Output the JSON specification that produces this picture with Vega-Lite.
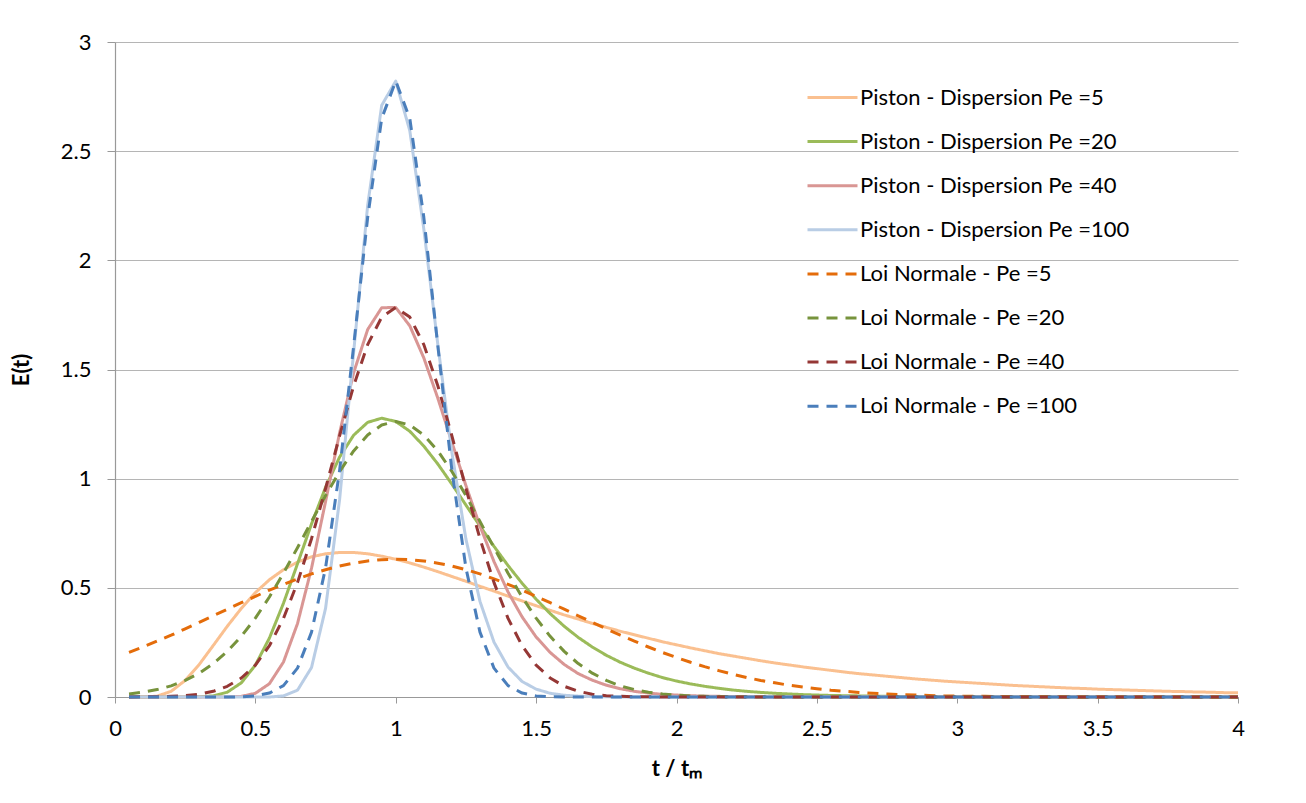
{
  "$schema": "https://vega.github.io/schema/vega-lite/v6.json",
  "width": 1123,
  "height": 655,
  "autosize": {"type": "none"},
  "padding": {"left": 115, "top": 42, "right": 68, "bottom": 106},
  "background": "white",
  "config": {
    "view": {"stroke": null},
    "font": "Lato",
    "axis": {
      "labelFontSize": 22,
      "labelColor": "#000000",
      "titleFontSize": 22,
      "titleFontWeight": "bold",
      "titleColor": "#000000",
      "domainColor": "#999999",
      "tickColor": "#999999",
      "gridColor": "#b5b5b5",
      "domainWidth": 1.2,
      "gridWidth": 1.2
    }
  },
  "data": {
    "values": [
      {"t":0.05,"P5":0,"P20":0,"P40":0,"P100":0,"N5":0.204,"N20":0.014,"N40":0,"N100":0},
      {"t":0.10,"P5":0,"P20":0,"P40":0,"P100":0,"N5":0.229,"N20":0.022,"N40":0.001,"N100":0},
      {"t":0.15,"P5":0.004,"P20":0,"P40":0,"P100":0,"N5":0.256,"N20":0.034,"N40":0.001,"N100":0},
      {"t":0.20,"P5":0.026,"P20":0,"P40":0,"P100":0,"N5":0.283,"N20":0.051,"N40":0.003,"N100":0},
      {"t":0.25,"P5":0.076,"P20":0,"P40":0,"P100":0,"N5":0.312,"N20":0.076,"N40":0.006,"N100":0},
      {"t":0.30,"P5":0.149,"P20":0.001,"P40":0,"P100":0,"N5":0.342,"N20":0.109,"N40":0.013,"N100":0},
      {"t":0.35,"P5":0.236,"P20":0.005,"P40":0,"P100":0,"N5":0.372,"N20":0.153,"N40":0.026,"N100":0},
      {"t":0.40,"P5":0.324,"P20":0.022,"P40":0,"P100":0,"N5":0.402,"N20":0.209,"N40":0.049,"N100":0},
      {"t":0.45,"P5":0.406,"P20":0.065,"P40":0.003,"P100":0,"N5":0.432,"N20":0.278,"N40":0.087,"N100":0.001},
      {"t":0.50,"P5":0.478,"P20":0.146,"P40":0.017,"P100":0,"N5":0.461,"N20":0.361,"N40":0.146,"N100":0.005},
      {"t":0.55,"P5":0.537,"P20":0.270,"P40":0.061,"P100":0,"N5":0.490,"N20":0.458,"N40":0.235,"N100":0.018},
      {"t":0.60,"P5":0.583,"P20":0.429,"P40":0.160,"P100":0.005,"N5":0.516,"N20":0.567,"N40":0.360,"N100":0.052},
      {"t":0.65,"P5":0.618,"P20":0.610,"P40":0.336,"P100":0.031,"N5":0.541,"N20":0.684,"N40":0.524,"N100":0.132},
      {"t":0.70,"P5":0.642,"P20":0.793,"P40":0.590,"P100":0.135,"N5":0.564,"N20":0.804,"N40":0.725,"N100":0.297},
      {"t":0.75,"P5":0.656,"P20":0.960,"P40":0.895,"P100":0.406,"N5":0.583,"N20":0.923,"N40":0.955,"N100":0.591},
      {"t":0.80,"P5":0.662,"P20":1.099,"P40":1.210,"P100":0.904,"N5":0.600,"N20":1.033,"N40":1.196,"N100":1.038},
      {"t":0.85,"P5":0.662,"P20":1.199,"P40":1.485,"P100":1.579,"N5":0.613,"N20":1.127,"N40":1.425,"N100":1.607},
      {"t":0.90,"P5":0.656,"P20":1.258,"P40":1.683,"P100":2.252,"N5":0.623,"N20":1.200,"N40":1.614,"N100":2.197},
      {"t":0.95,"P5":0.645,"P20":1.277,"P40":1.783,"P100":2.710,"N5":0.629,"N20":1.246,"N40":1.740,"N100":2.650},
      {"t":1.00,"P5":0.631,"P20":1.262,"P40":1.784,"P100":2.821,"N5":0.631,"N20":1.262,"N40":1.784,"N100":2.821},
      {"t":1.05,"P5":0.614,"P20":1.217,"P40":1.700,"P100":2.594,"N5":0.629,"N20":1.246,"N40":1.740,"N100":2.650},
      {"t":1.10,"P5":0.595,"P20":1.149,"P40":1.553,"P100":2.143,"N5":0.623,"N20":1.200,"N40":1.614,"N100":2.197},
      {"t":1.15,"P5":0.574,"P20":1.067,"P40":1.368,"P100":1.613,"N5":0.613,"N20":1.127,"N40":1.425,"N100":1.607},
      {"t":1.20,"P5":0.552,"P20":0.975,"P40":1.167,"P100":1.119,"N5":0.600,"N20":1.033,"N40":1.196,"N100":1.038},
      {"t":1.25,"P5":0.530,"P20":0.879,"P40":0.968,"P100":0.723,"N5":0.583,"N20":0.923,"N40":0.955,"N100":0.591},
      {"t":1.30,"P5":0.507,"P20":0.783,"P40":0.783,"P100":0.438,"N5":0.564,"N20":0.804,"N40":0.725,"N100":0.297},
      {"t":1.35,"P5":0.485,"P20":0.690,"P40":0.620,"P100":0.251,"N5":0.541,"N20":0.684,"N40":0.524,"N100":0.132},
      {"t":1.40,"P5":0.462,"P20":0.602,"P40":0.481,"P100":0.137,"N5":0.516,"N20":0.567,"N40":0.360,"N100":0.052},
      {"t":1.45,"P5":0.440,"P20":0.521,"P40":0.367,"P100":0.071,"N5":0.490,"N20":0.458,"N40":0.235,"N100":0.018},
      {"t":1.50,"P5":0.418,"P20":0.448,"P40":0.275,"P100":0.036,"N5":0.461,"N20":0.361,"N40":0.146,"N100":0.005},
      {"t":1.55,"P5":0.397,"P20":0.382,"P40":0.204,"P100":0.017,"N5":0.432,"N20":0.278,"N40":0.087,"N100":0.001},
      {"t":1.60,"P5":0.376,"P20":0.324,"P40":0.149,"P100":0.008,"N5":0.402,"N20":0.209,"N40":0.049,"N100":0},
      {"t":1.65,"P5":0.357,"P20":0.273,"P40":0.107,"P100":0.004,"N5":0.372,"N20":0.153,"N40":0.026,"N100":0},
      {"t":1.70,"P5":0.337,"P20":0.229,"P40":0.077,"P100":0.002,"N5":0.342,"N20":0.109,"N40":0.013,"N100":0},
      {"t":1.75,"P5":0.319,"P20":0.191,"P40":0.054,"P100":0.001,"N5":0.312,"N20":0.076,"N40":0.006,"N100":0},
      {"t":1.80,"P5":0.301,"P20":0.159,"P40":0.038,"P100":0,"N5":0.283,"N20":0.051,"N40":0.003,"N100":0},
      {"t":1.85,"P5":0.285,"P20":0.132,"P40":0.026,"P100":0,"N5":0.256,"N20":0.034,"N40":0.001,"N100":0},
      {"t":1.90,"P5":0.269,"P20":0.109,"P40":0.018,"P100":0,"N5":0.229,"N20":0.022,"N40":0.001,"N100":0},
      {"t":1.95,"P5":0.253,"P20":0.089,"P40":0.012,"P100":0,"N5":0.204,"N20":0.014,"N40":0,"N100":0},
      {"t":2.00,"P5":0.239,"P20":0.073,"P40":0.009,"P100":0,"N5":0.181,"N20":0.009,"N40":0,"N100":0},
      {"t":2.05,"P5":0.225,"P20":0.060,"P40":0.006,"P100":0,"N5":0.159,"N20":0.005,"N40":0,"N100":0},
      {"t":2.10,"P5":0.212,"P20":0.049,"P40":0.004,"P100":0,"N5":0.139,"N20":0.003,"N40":0,"N100":0},
      {"t":2.15,"P5":0.199,"P20":0.040,"P40":0.003,"P100":0,"N5":0.121,"N20":0.002,"N40":0,"N100":0},
      {"t":2.20,"P5":0.188,"P20":0.032,"P40":0.002,"P100":0,"N5":0.104,"N20":0.001,"N40":0,"N100":0},
      {"t":2.25,"P5":0.177,"P20":0.026,"P40":0.001,"P100":0,"N5":0.089,"N20":0.001,"N40":0,"N100":0},
      {"t":2.30,"P5":0.166,"P20":0.021,"P40":0.001,"P100":0,"N5":0.076,"N20":0,"N40":0,"N100":0},
      {"t":2.35,"P5":0.156,"P20":0.017,"P40":0,"P100":0,"N5":0.065,"N20":0,"N40":0,"N100":0},
      {"t":2.40,"P5":0.147,"P20":0.014,"P40":0,"P100":0,"N5":0.054,"N20":0,"N40":0,"N100":0},
      {"t":2.45,"P5":0.138,"P20":0.011,"P40":0,"P100":0,"N5":0.046,"N20":0,"N40":0,"N100":0},
      {"t":2.50,"P5":0.130,"P20":0.009,"P40":0,"P100":0,"N5":0.038,"N20":0,"N40":0,"N100":0},
      {"t":2.55,"P5":0.122,"P20":0.007,"P40":0,"P100":0,"N5":0.031,"N20":0,"N40":0,"N100":0},
      {"t":2.60,"P5":0.114,"P20":0.006,"P40":0,"P100":0,"N5":0.026,"N20":0,"N40":0,"N100":0},
      {"t":2.65,"P5":0.107,"P20":0.005,"P40":0,"P100":0,"N5":0.021,"N20":0,"N40":0,"N100":0},
      {"t":2.70,"P5":0.101,"P20":0.004,"P40":0,"P100":0,"N5":0.017,"N20":0,"N40":0,"N100":0},
      {"t":2.75,"P5":0.095,"P20":0.003,"P40":0,"P100":0,"N5":0.014,"N20":0,"N40":0,"N100":0},
      {"t":2.80,"P5":0.089,"P20":0.002,"P40":0,"P100":0,"N5":0.011,"N20":0,"N40":0,"N100":0},
      {"t":2.85,"P5":0.083,"P20":0.002,"P40":0,"P100":0,"N5":0.009,"N20":0,"N40":0,"N100":0},
      {"t":2.90,"P5":0.078,"P20":0.001,"P40":0,"P100":0,"N5":0.007,"N20":0,"N40":0,"N100":0},
      {"t":2.95,"P5":0.073,"P20":0.001,"P40":0,"P100":0,"N5":0.005,"N20":0,"N40":0,"N100":0},
      {"t":3.00,"P5":0.069,"P20":0.001,"P40":0,"P100":0,"N5":0.004,"N20":0,"N40":0,"N100":0},
      {"t":3.05,"P5":0.065,"P20":0.001,"P40":0,"P100":0,"N5":0.003,"N20":0,"N40":0,"N100":0},
      {"t":3.10,"P5":0.061,"P20":0.001,"P40":0,"P100":0,"N5":0.003,"N20":0,"N40":0,"N100":0},
      {"t":3.15,"P5":0.057,"P20":0,"P40":0,"P100":0,"N5":0.002,"N20":0,"N40":0,"N100":0},
      {"t":3.20,"P5":0.053,"P20":0,"P40":0,"P100":0,"N5":0.001,"N20":0,"N40":0,"N100":0},
      {"t":3.25,"P5":0.050,"P20":0,"P40":0,"P100":0,"N5":0.001,"N20":0,"N40":0,"N100":0},
      {"t":3.30,"P5":0.047,"P20":0,"P40":0,"P100":0,"N5":0.001,"N20":0,"N40":0,"N100":0},
      {"t":3.35,"P5":0.044,"P20":0,"P40":0,"P100":0,"N5":0.001,"N20":0,"N40":0,"N100":0},
      {"t":3.40,"P5":0.041,"P20":0,"P40":0,"P100":0,"N5":0,"N20":0,"N40":0,"N100":0},
      {"t":3.45,"P5":0.039,"P20":0,"P40":0,"P100":0,"N5":0,"N20":0,"N40":0,"N100":0},
      {"t":3.50,"P5":0.036,"P20":0,"P40":0,"P100":0,"N5":0,"N20":0,"N40":0,"N100":0},
      {"t":3.55,"P5":0.034,"P20":0,"P40":0,"P100":0,"N5":0,"N20":0,"N40":0,"N100":0},
      {"t":3.60,"P5":0.032,"P20":0,"P40":0,"P100":0,"N5":0,"N20":0,"N40":0,"N100":0},
      {"t":3.65,"P5":0.030,"P20":0,"P40":0,"P100":0,"N5":0,"N20":0,"N40":0,"N100":0},
      {"t":3.70,"P5":0.028,"P20":0,"P40":0,"P100":0,"N5":0,"N20":0,"N40":0,"N100":0},
      {"t":3.75,"P5":0.026,"P20":0,"P40":0,"P100":0,"N5":0,"N20":0,"N40":0,"N100":0},
      {"t":3.80,"P5":0.025,"P20":0,"P40":0,"P100":0,"N5":0,"N20":0,"N40":0,"N100":0},
      {"t":3.85,"P5":0.023,"P20":0,"P40":0,"P100":0,"N5":0,"N20":0,"N40":0,"N100":0},
      {"t":3.90,"P5":0.022,"P20":0,"P40":0,"P100":0,"N5":0,"N20":0,"N40":0,"N100":0},
      {"t":3.95,"P5":0.020,"P20":0,"P40":0,"P100":0,"N5":0,"N20":0,"N40":0,"N100":0},
      {"t":4.00,"P5":0.019,"P20":0,"P40":0,"P100":0,"N5":0,"N20":0,"N40":0,"N100":0}
    ]
  },
  "transform": [
    {"fold": ["P5", "P20", "P40", "P100", "N5", "N20", "N40", "N100"], "as": ["series", "E"]}
  ],
  "mark": {"type": "line", "strokeWidth": 3, "strokeJoin": "round"},
  "encoding": {
    "x": {
      "field": "t",
      "type": "quantitative",
      "scale": {"domain": [0, 4], "nice": false},
      "axis": {
        "values": [0, 0.5, 1, 1.5, 2, 2.5, 3, 3.5, 4],
        "format": "~g",
        "title": "t / tₘ",
        "grid": false,
        "tickSize": 6,
        "labelPadding": 15,
        "titlePadding": 19,
        "labelFlush": false
      }
    },
    "y": {
      "field": "E",
      "type": "quantitative",
      "scale": {"domain": [0, 3], "nice": false},
      "axis": {
        "values": [0, 0.5, 1, 1.5, 2, 2.5, 3],
        "format": "~g",
        "title": "E(t)",
        "grid": true,
        "tickSize": 8,
        "labelPadding": 16,
        "titlePadding": 27
      }
    },
    "color": {
      "field": "series",
      "type": "nominal",
      "scale": {
        "domain": ["P5", "P20", "P40", "P100", "N5", "N20", "N40", "N100"],
        "range": ["#FAC090", "#9BBB59", "#D99694", "#B9CDE5", "#E46C0A", "#77933C", "#953735", "#4A7EBB"]
      },
      "legend": {
        "orient": "none",
        "legendX": 706,
        "legendY": 44,
        "title": null,
        "padding": 0,
        "symbolType": "M-2.5,0H2.5",
        "symbolSize": 400,
        "symbolStrokeWidth": 3,
        "labelFontSize": 22,
        "labelColor": "#000000",
        "labelOffset": 16,
        "labelLimit": 500,
        "rowPadding": 21.1,
        "labelExpr": "{'P5':'Piston - Dispersion Pe =5','P20':'Piston - Dispersion Pe =20','P40':'Piston - Dispersion Pe =40','P100':'Piston - Dispersion Pe =100','N5':'Loi Normale - Pe =5','N20':'Loi Normale - Pe =20','N40':'Loi Normale - Pe =40','N100':'Loi Normale - Pe =100'}[datum.label]"
      }
    },
    "strokeDash": {
      "field": "series",
      "type": "nominal",
      "scale": {
        "domain": ["P5", "P20", "P40", "P100", "N5", "N20", "N40", "N100"],
        "range": [[1, 0], [1, 0], [1, 0], [1, 0], [11, 8], [11, 8], [11, 8], [11, 8]]
      },
      "legend": {
        "orient": "none",
        "legendX": 706,
        "legendY": 44,
        "title": null,
        "padding": 0,
        "symbolType": "M-2.5,0H2.5",
        "symbolSize": 400,
        "symbolStrokeWidth": 3,
        "labelFontSize": 22,
        "labelColor": "#000000",
        "labelOffset": 16,
        "labelLimit": 500,
        "rowPadding": 21.1,
        "labelExpr": "{'P5':'Piston - Dispersion Pe =5','P20':'Piston - Dispersion Pe =20','P40':'Piston - Dispersion Pe =40','P100':'Piston - Dispersion Pe =100','N5':'Loi Normale - Pe =5','N20':'Loi Normale - Pe =20','N40':'Loi Normale - Pe =40','N100':'Loi Normale - Pe =100'}[datum.label]"
      }
    }
  }
}
